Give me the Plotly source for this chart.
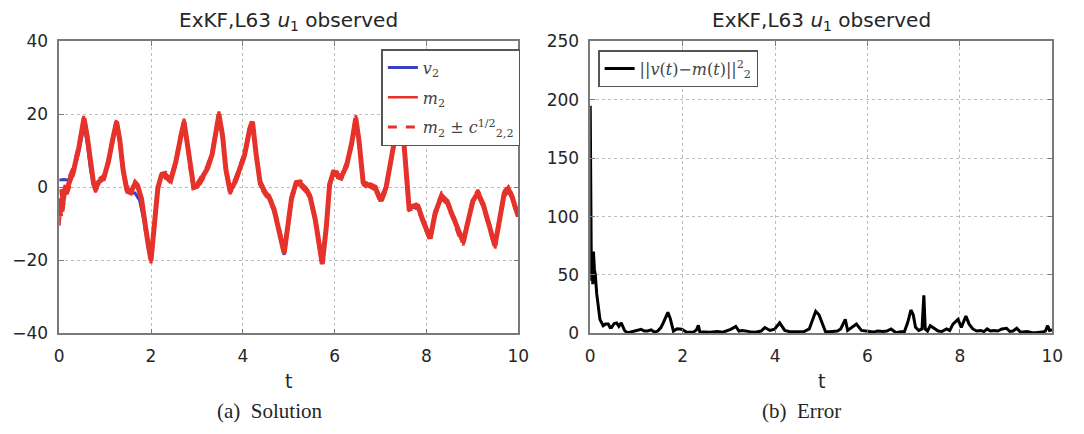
import plotly.graph_objects as go

# ---------------- data ----------------
t_m2 = [0.00, 0.03, 0.06, 0.107, 0.21, 0.32, 0.43, 0.50, 0.54, 0.61, 0.68, 0.75, 0.79, 0.86, 0.97,
        1.07, 1.18, 1.25, 1.32, 1.39, 1.47, 1.57, 1.65, 1.72, 1.79, 1.86, 1.93, 2.00, 2.07, 2.15,
        2.22, 2.32, 2.43, 2.54, 2.65, 2.72, 2.79, 2.86, 2.93, 3.00, 3.11, 3.22, 3.33, 3.43, 3.48,
        3.56, 3.63, 3.72, 3.83, 3.93, 4.04, 4.15, 4.21, 4.29, 4.38, 4.47, 4.58, 4.68, 4.79, 4.90,
        4.98, 5.06, 5.15, 5.26, 5.36, 5.47, 5.58, 5.67, 5.73, 5.82, 5.89, 5.96, 6.05, 6.15, 6.26,
        6.37, 6.46, 6.53, 6.62, 6.76, 6.90, 7.01, 7.12, 7.22, 7.33, 7.42, 7.51, 7.58, 7.62, 7.73,
        7.83, 7.94, 8.08, 8.19, 8.33, 8.44, 8.58, 8.69, 8.80, 8.91, 9.01, 9.12, 9.23, 9.37, 9.49,
        9.59, 9.69, 9.78, 9.87, 10.00]
m2 = [-8.0, -3.0, -6.0, -2.0, 1.0, 5.0, 11.0, 16.0, 19.0, 14.0, 7.0, 1.0, -0.5, 1.5, 2.5,
      7.0, 14.0, 18.0, 13.0, 5.0, -0.5, -1.0, 1.0, 0.0, -3.0, -10.0, -15.0, -20.0, -11.0, 0.0,
      3.0, 3.4, 2.0, 7.0, 14.0, 18.0, 12.0, 5.0, 0.0, 0.3, 2.5, 5.0, 9.0, 17.0, 20.0,
      14.0, 5.0, -1.0, 1.5, 5.0, 9.0, 16.0, 18.0, 9.0, 1.0, -1.0, -3.0, -6.0, -11.5, -18.0,
      -10.6, -3.0, 0.8, 1.0, -0.2, -2.8, -9.0, -16.0, -21.0, -10.6, 0.8, 3.7, 3.5, 3.0, 6.0,
      12.0, 19.0, 12.8, 1.5, 0.3, -0.5, -3.7, 0.0, 7.0, 14.0, 21.0, 12.0, 0.0, -5.5, -5.0,
      -5.7, -9.7, -14.0, -7.0, -2.3, -3.7, -8.0, -12.0, -15.0, -9.0, -3.7, -1.5, -4.5, -10.6, -16.0,
      -9.0, -1.8, -0.3, -2.8, -8.0]
sd2 = [2.5, 2.5, 2.5, 2.0, 1.6, 1.2, 0.9, 0.8, 0.8, 0.8, 0.8, 0.8, 0.8, 0.8, 0.8,
       0.8, 0.8, 0.8, 0.8, 0.8, 0.8, 0.8, 0.8, 0.8, 0.8, 0.8, 0.8, 0.8, 0.8, 0.8,
       0.8, 0.8, 0.8, 0.8, 0.8, 0.8, 0.8, 0.8, 0.8, 0.8, 0.8, 0.8, 0.8, 0.8, 0.8,
       0.8, 0.8, 0.8, 0.8, 0.8, 0.8, 0.8, 0.8, 0.8, 0.8, 0.8, 0.8, 0.8, 0.8, 0.8,
       0.8, 0.8, 0.8, 0.8, 0.8, 0.8, 0.8, 0.8, 0.8, 0.8, 0.8, 0.8, 0.8, 0.8, 0.8,
       0.8, 0.8, 0.8, 0.8, 0.8, 0.8, 0.8, 0.8, 0.8, 0.8, 0.8, 0.8, 0.8, 0.8, 0.8,
       0.8, 0.8, 0.8, 0.8, 0.8, 0.8, 0.8, 0.8, 0.8, 0.8, 0.8, 0.8, 0.8, 0.8, 0.8,
       0.8, 0.8, 0.8, 0.8, 0.8]

t_v2 = [0.00, 0.10, 0.20, 0.32, 0.43, 0.50, 0.54, 0.61, 0.68, 0.75, 0.79, 0.86, 0.97,
        1.07, 1.18, 1.25, 1.32, 1.39, 1.47, 1.57, 1.65, 1.75, 1.86, 1.93, 2.00, 2.07, 2.15,
        2.22, 2.32, 2.43, 2.54, 2.65, 2.72, 2.79, 2.86, 2.93, 3.00, 3.11, 3.22, 3.33, 3.43, 3.48,
        3.56, 3.63, 3.72, 3.83, 3.93, 4.04, 4.15, 4.21, 4.29, 4.38, 4.47, 4.58, 4.68, 4.79, 4.90,
        4.98, 5.06, 5.15, 5.26, 5.36, 5.47, 5.58, 5.67, 5.73, 5.82, 5.89, 5.96, 6.05, 6.15, 6.26,
        6.37, 6.46, 6.53, 6.62, 6.76, 6.90, 7.01, 7.12, 7.22, 7.33, 7.42, 7.51, 7.58, 7.62, 7.73,
        7.83, 7.94, 8.08, 8.19, 8.33, 8.44, 8.58, 8.69, 8.80, 8.91, 9.01, 9.12, 9.23, 9.37, 9.49,
        9.59, 9.69, 9.78, 9.87, 10.00]
v2 = [2.0, 2.2, 2.0, 5.0, 10.0, 15.0, 17.0, 12.0, 5.0, 0.5, 0.0, 1.5, 2.5,
      7.0, 14.0, 18.0, 12.0, 4.0, -1.0, -1.5, -1.5, -3.5, -10.0, -15.0, -19.5, -11.0, 0.0,
      3.0, 3.4, 2.0, 7.0, 14.0, 17.5, 12.0, 5.0, 0.0, 0.3, 2.5, 5.0, 9.0, 17.0, 19.5,
      14.0, 5.0, -1.0, 1.5, 5.0, 9.0, 16.0, 17.5, 9.0, 1.0, -1.0, -3.0, -6.5, -12.0, -18.5,
      -10.6, -3.0, 0.8, 1.0, -0.2, -2.8, -9.5, -16.0, -20.5, -10.6, 0.8, 3.7, 3.5, 3.0, 6.0,
      12.0, 18.5, 12.8, 1.5, 0.3, -0.5, -3.0, 0.0, 7.0, 14.0, 21.0, 12.0, 0.0, -5.5, -5.5,
      -6.0, -10.0, -13.0, -7.0, -2.3, -3.7, -8.0, -12.0, -14.5, -9.0, -3.7, -1.5, -4.5, -10.6, -15.5,
      -9.0, -1.8, -0.3, -2.8, -8.0]

t_err = [0.00, 0.005, 0.01, 0.02, 0.03, 0.04, 0.055, 0.07, 0.09, 0.11, 0.14, 0.18, 0.21, 0.28, 0.33,
         0.39, 0.43, 0.46, 0.52, 0.57, 0.62, 0.67, 0.75, 0.82, 0.90, 0.96, 1.03, 1.10, 1.17, 1.24,
         1.32, 1.39, 1.46, 1.53, 1.58, 1.63, 1.68, 1.73, 1.80, 1.88, 1.98, 2.09, 2.23, 2.30, 2.34,
         2.37, 2.50, 2.59, 2.75, 2.87, 3.04, 3.15, 3.22, 3.29, 3.45, 3.57, 3.70, 3.78, 3.89, 3.99,
         4.10, 4.21, 4.32, 4.42, 4.52, 4.63, 4.74, 4.81, 4.88, 4.95, 5.02, 5.09, 5.18, 5.27, 5.35,
         5.42, 5.52, 5.57, 5.66, 5.76, 5.87, 6.00, 6.12, 6.22, 6.33, 6.42, 6.51, 6.62, 6.72, 6.80,
         6.87, 6.94, 6.99, 7.04, 7.11, 7.18, 7.22, 7.25, 7.30, 7.36, 7.46, 7.53, 7.61, 7.71, 7.78,
         7.85, 7.96, 8.03, 8.13, 8.20, 8.28, 8.36, 8.45, 8.52, 8.59, 8.66, 8.74, 8.82, 8.91, 9.01,
         9.08, 9.15, 9.23, 9.30, 9.37, 9.45, 9.55, 9.65, 9.72, 9.79, 9.85, 9.90, 9.94, 10.00]
err = [195.0, 110.0, 85.0, 75.0, 45.0, 70.0, 42.0, 70.0, 55.0, 50.0, 34.0, 20.0, 12.0, 6.5, 8.0,
       8.0, 5.0, 5.0, 8.5, 9.0, 6.0, 9.0, 2.0, 0.5, 1.5, 2.0, 3.0, 3.5, 2.0, 2.0,
       3.0, 1.0, 2.0, 5.0, 9.0, 14.0, 18.0, 13.0, 2.0, 4.0, 3.5, 1.0, 1.0, 3.0, 7.0,
       1.5, 1.0, 1.0, 1.5, 1.0, 3.5, 6.0, 2.0, 2.5, 1.5, 1.0, 2.0, 5.0, 2.5, 3.5,
       9.0, 2.5, 1.5, 1.6, 2.0, 1.6, 3.8, 10.7, 18.9, 16.0, 8.0, 1.6, 1.5, 1.6, 2.0,
       3.8, 12.0, 2.5, 5.2, 7.9, 2.5, 1.5, 1.1, 2.0, 1.6, 2.0, 3.8, 0.5, 1.5, 1.6,
       9.3, 20.0, 16.0, 5.2, 2.5, 3.8, 32.5, 3.8, 2.0, 6.6, 3.8, 2.0, 1.6, 3.8, 2.5,
       7.9, 12.0, 5.2, 14.8, 7.9, 3.8, 2.0, 2.5, 1.5, 3.8, 2.0, 2.5, 2.0, 3.8, 4.4,
       1.6, 2.0, 4.4, 1.5, 1.1, 1.5, 0.8, 0.5, 1.0, 1.1, 2.0, 6.6, 2.5, 3.0]

x_ticks = [0, 2, 4, 6, 8, 10]
y_ticks_sol = [-40, -20, 0, 20, 40]
y_ticks_err = [0, 50, 100, 150, 200, 250]

title_text = "ExKF,L63 <i>u</i><sub>1</sub> observed"
captions = ["(a)  Solution", "(b)  Error"]

# ---------------- styling ----------------
BLUE = "#3a3fc4"
RED = "#e5322b"
FRAME = "#7a7a7a"
TXT = "#262626"
SANS = "DejaVu Sans"
SERIF = "DejaVu Serif"

fig = go.Figure()

fig.add_trace(go.Scatter(x=t_v2, y=v2, mode="lines", line=dict(color=BLUE, width=3),
                         name="<i>v</i><sub>2</sub>", xaxis="x", yaxis="y", legend="legend"))
upper = [m + s for m, s in zip(m2, sd2)]
lower = [m - s for m, s in zip(m2, sd2)]
fig.add_trace(go.Scatter(x=t_m2, y=m2, mode="lines", line=dict(color=RED, width=2.5),
                         name="<i>m</i><sub>2</sub>", xaxis="x", yaxis="y", legend="legend"))
fig.add_trace(go.Scatter(x=t_m2, y=upper, mode="lines", line=dict(color=RED, width=3, dash="dash"),
                         name="<i>m</i><sub>2</sub> ± <i>c</i><sup>1/2</sup><sub>2,2</sub>",
                         xaxis="x", yaxis="y", legend="legend", legendgroup="band"))
fig.add_trace(go.Scatter(x=t_m2, y=lower, mode="lines", line=dict(color=RED, width=3, dash="dash"),
                         showlegend=False, xaxis="x", yaxis="y", legendgroup="band"))
# solid red drawn again on top so the band reads as one thick stroke
fig.add_trace(go.Scatter(x=t_m2, y=m2, mode="lines", line=dict(color=RED, width=5),
                         showlegend=False, xaxis="x", yaxis="y", hoverinfo="skip"))

fig.add_trace(go.Scatter(x=t_err, y=err, mode="lines", line=dict(color="black", width=3),
                         name="||<i>v</i>(<i>t</i>)−<i>m</i>(<i>t</i>)||<sup>2</sup><sub>2</sub>",
                         xaxis="x2", yaxis="y2", legend="legend2"))

W, H = 1084, 434
L1, R1 = 55, 521
L2, R2 = 594, 1063
TOP, BOT = 33, 339

def xdom(a, b):
    return [a / W, b / W]

ydom = [1 - BOT / H, 1 - TOP / H]

axis_common = dict(
    showgrid=True, gridcolor="#bdbdbd", griddash="dot", gridwidth=1,
    showline=True, linecolor=FRAME, linewidth=1.5, mirror="allticks",
    ticks="inside", ticklen=5, tickcolor=FRAME, tickwidth=1,
    tickfont=dict(family=SANS, size=17, color=TXT), zeroline=False,
    ticklabelstandoff=6,
)

fig.update_layout(
    width=W, height=H,
    margin=dict(l=0, r=0, t=0, b=0),
    paper_bgcolor="white", plot_bgcolor="white",
    showlegend=True,
    xaxis=dict(domain=xdom(L1, R1), range=[0, 10], tickvals=x_ticks, anchor="y", **axis_common),
    yaxis=dict(domain=ydom, range=[-40, 40], tickvals=y_ticks_sol, anchor="x", **axis_common),
    xaxis2=dict(domain=xdom(L2, R2), range=[0, 10], tickvals=x_ticks, anchor="y2", **axis_common),
    yaxis2=dict(domain=ydom, range=[0, 250], tickvals=y_ticks_err, anchor="x2", **axis_common),
    legend=dict(x=382 / W, y=1 - 41 / H, xanchor="left", yanchor="top",
                bgcolor="white", bordercolor="#555", borderwidth=1.5,
                font=dict(family=SERIF, size=16, color="#444"), tracegroupgap=6),
    legend2=dict(x=602 / W, y=1 - 42 / H, xanchor="left", yanchor="top",
                 bgcolor="white", bordercolor="#555", borderwidth=1.5,
                 font=dict(family=SERIF, size=16, color="#444")),
)

annotations = []
for cx, cap in zip([(L1 + R1) / 2, (L2 + R2) / 2], captions):
    annotations.append(dict(text=title_text, x=cx / W, y=1 - 12 / H, xref="paper", yref="paper",
                            showarrow=False, xanchor="center", yanchor="middle",
                            font=dict(family=SANS, size=20, color=TXT)))
    annotations.append(dict(text="t", x=cx / W, y=1 - 389 / H, xref="paper", yref="paper",
                            showarrow=False, xanchor="center", yanchor="middle",
                            font=dict(family=SANS, size=19, color=TXT)))
    annotations.append(dict(text=cap, x=(cx - 20) / W, y=1 - 420 / H, xref="paper", yref="paper",
                            showarrow=False, xanchor="center", yanchor="middle",
                            font=dict(family="Liberation Serif", size=21, color=TXT)))
fig.update_layout(annotations=annotations)

fig.write_html("out.html")
